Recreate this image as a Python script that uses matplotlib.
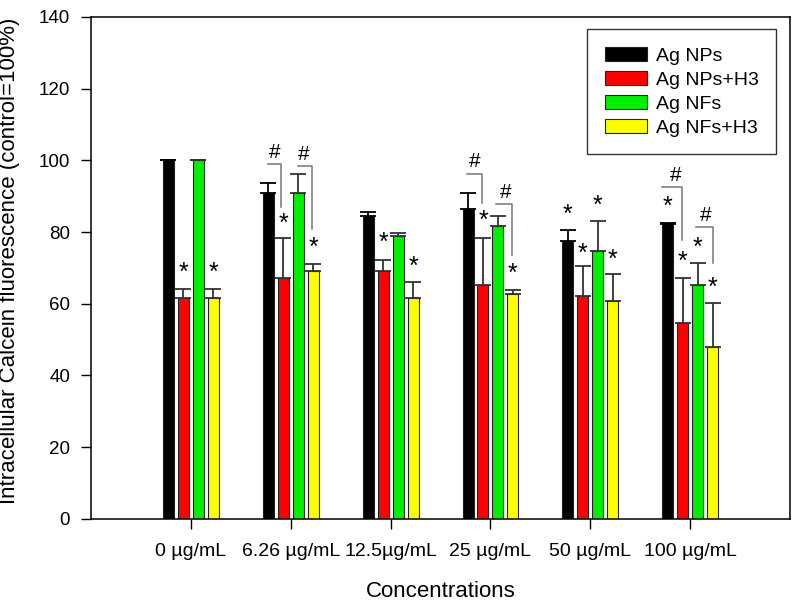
import matplotlib
matplotlib.use("Agg")
import matplotlib.pyplot as plt
import numpy as np

plt.rcParams['font.family'] = ['Liberation Sans', 'DejaVu Sans']

categories = ["0 µg/mL", "6.26 µg/mL", "12.5µg/mL", "25 µg/mL", "50 µg/mL", "100 µg/mL"]
series_names = ["Ag NPs", "Ag NPs+H3", "Ag NFs", "Ag NFs+H3"]
ag_nps = [100, 90.8, 84.4, 86.3, 77.4, 82.1]
ag_nps_h3 = [61.5, 67.3, 69.0, 65.1, 62.3, 54.7]
ag_nfs = [100, 90.8, 79.0, 81.8, 74.6, 65.1]
ag_nfs_h3 = [61.5, 69.0, 61.7, 62.8, 60.9, 48.0]
err_nps = [0, 3.0, 1.1, 4.7, 3.3, 0.5]
err_nps_h3 = [2.7, 10.9, 3.1, 13.1, 8.1, 12.6]
err_nfs = [0, 5.3, 0.6, 2.6, 8.6, 6.4]
err_nfs_h3 = [2.7, 2.2, 4.5, 0.9, 7.5, 12.3]
colors = ["#000000", "#ff0000", "#00ee00", "#ffff00"]

# significance stars: (group, series, y)
stars = [(0, 1, 70.0), (0, 3, 70.0),
         (1, 1, 83.9), (1, 3, 77.2),
         (2, 1, 78.4), (2, 3, 71.7),
         (3, 1, 84.5), (3, 3, 69.7),
         (4, 0, 86.4), (4, 1, 75.3), (4, 2, 88.7), (4, 3, 73.6),
         (5, 0, 88.4), (5, 1, 73.1), (5, 2, 77.2), (5, 3, 65.8)]
# hash brackets: (group, x_left_off, x_right_off, y_top, y_bottom, hash_x_off, hash_y)
brackets = [(1, -0.23, -0.10, 99.0, 87.0, -0.16, 102.1),
            (1, 0.07, 0.21, 98.4, 80.9, 0.13, 101.5),
            (3, -0.24, -0.08, 96.2, 88.1, -0.16, 99.6),
            (3, 0.06, 0.22, 87.8, 73.6, 0.15, 90.9),
            (5, -0.28, -0.08, 92.6, 77.8, -0.15, 95.9),
            (5, 0.06, 0.23, 81.4, 71.4, 0.16, 84.5)]

values = [ag_nps, ag_nps_h3, ag_nfs, ag_nfs_h3]
errs = [err_nps, err_nps_h3, err_nfs, err_nfs_h3]
offsets = [-0.225, -0.075, 0.075, 0.225]
width = 0.11

fig = plt.figure(figsize=(7.92, 6.02), dpi=100)
ax = fig.add_axes([0.115, 0.138, 0.8825, 0.834])
x = np.arange(len(categories))
for i in range(4):
    ax.bar(x + offsets[i], values[i], width, color=colors[i], edgecolor="#222222",
           linewidth=0.8, label=series_names[i], zorder=2)
    ecol = "#000000" if i == 0 else "#333333"
    ax.errorbar(x + offsets[i], values[i], yerr=[np.zeros(len(x)), errs[i]],
                fmt='none', ecolor=ecol, elinewidth=1.3, capsize=6, capthick=1.3, zorder=3)

for g, s, y in stars:
    ax.text(g + offsets[s], y - 1.5, "*", ha='center', va='center', fontsize=18)

for g, xl, xr, yt, yb, hx, hy in brackets:
    ax.plot([g + xl, g + xr, g + xr], [yt, yt, yb], color="#777777", lw=1.1, zorder=3)
    ax.text(g + hx, hy, "#", ha='center', va='center', fontsize=15)

ax.set_xlim(-1, 6)
ax.set_ylim(0, 140)
ax.set_yticks(np.arange(0, 141, 20))
ax.set_xticks(x)
ax.set_xticklabels(categories)
ax.tick_params(direction='out', length=7, width=1)
ax.tick_params(axis='x', pad=10, labelsize=14)
ax.tick_params(axis='y', pad=8, labelsize=13.5)
ax.set_xlabel("Concentrations", fontsize=16)
ax.xaxis.label.set_va('baseline')
ax.xaxis.set_label_coords(0.5, -0.156)
ax.set_ylabel("Intracellular Calcein fluorescence (control=100%)", fontsize=16)
ax.yaxis.set_label_coords(-0.1016, 0.515)
for sp in ax.spines.values():
    sp.set_linewidth(1.1)

leg = ax.legend(loc='upper right', bbox_to_anchor=(0.98, 0.975), fontsize=14,
                fancybox=False, edgecolor='#333333', framealpha=1,
                handlelength=2.2, handleheight=0.8, labelspacing=0.3,
                borderpad=0.88, handletextpad=0.45, borderaxespad=0)
leg.get_frame().set_linewidth(1.0)

fig.savefig("out.png", dpi=100)
